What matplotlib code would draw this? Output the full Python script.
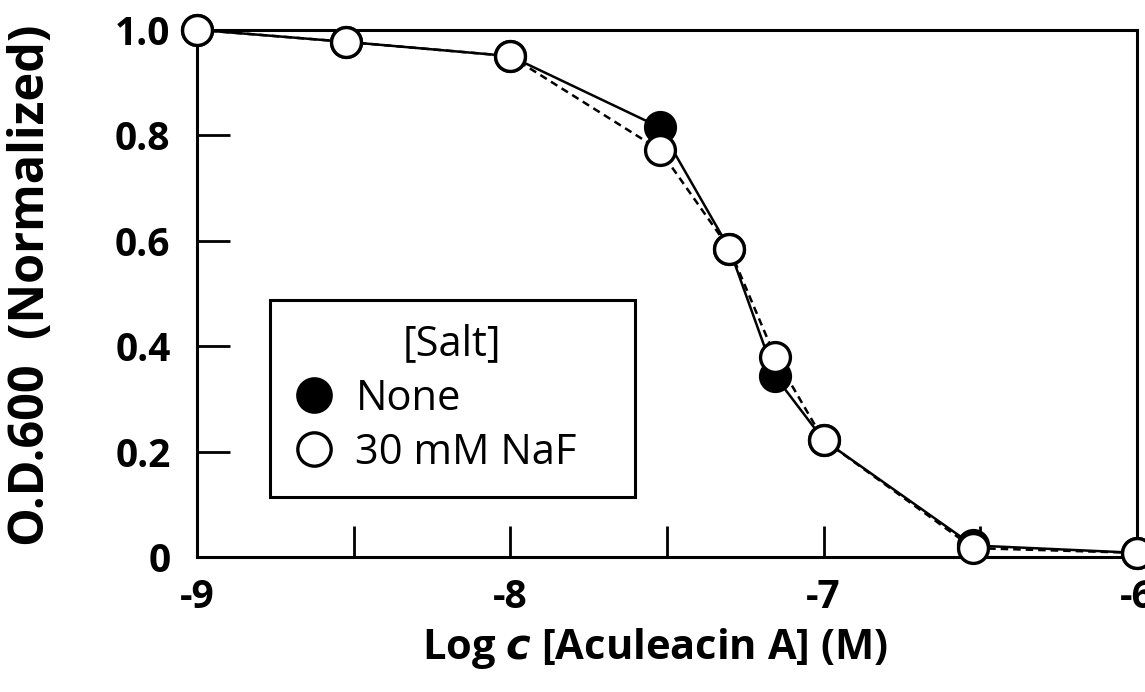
import numpy as np
import matplotlib.pyplot as plt
from matplotlib.lines import Line2D

# concentrations (M) and normalized O.D.600
conc = [1e-9, 3e-9, 1e-8, 3e-8, 5e-8, 7e-8, 1e-7, 3e-7, 1e-6]
od_none = [1.0, 0.977, 0.95, 0.815, 0.585, 0.343, 0.222, 0.022, 0.008]
od_naf = [1.0, 0.977, 0.95, 0.772, 0.585, 0.380, 0.222, 0.017, 0.008]

x_ticks = [-9, -8.5, -8, -7.5, -7, -6.5, -6]
x_labels = ['-9', '', '-8', '', '-7', '', '-6']
y_ticks = [0, 0.2, 0.4, 0.6, 0.8, 1.0]
y_labels = ['0', '0.2', '0.4', '0.6', '0.8', '1.0']

plt.rcParams['font.family'] = ['Open Sans', 'DejaVu Sans']

fig = plt.figure(figsize=(11.45, 6.92), dpi=100)
ax = fig.add_axes([0.172, 0.195, 0.821, 0.762])

logc = np.log10(conc)
ax.plot(logc, od_none, '-', color='black', lw=1.8, marker='o', ms=21.5,
        mfc='black', mec='black', mew=2.4, clip_on=False, zorder=3)
ax.plot(logc, od_naf, '--', color='black', lw=1.8, marker='o', ms=21.5,
        mfc='white', mec='black', mew=2.4, clip_on=False, zorder=4,
        dashes=(3, 2))

ax.set_xlim(-9, -6)
ax.set_ylim(0, 1)
ax.set_xticks(x_ticks)
ax.set_xticklabels(x_labels, fontsize=28, fontweight='bold')
ax.set_yticks(y_ticks)
ax.set_yticklabels(y_labels, fontsize=28, fontweight='bold')
ax.tick_params(axis='y', direction='in', length=24, width=2, pad=19)
ax.tick_params(axis='x', direction='in', length=22, width=2, pad=15)
for s in ax.spines.values():
    s.set_linewidth(2.2)

ax.set_xlabel(r'Log $\mathbfit{c}$ [Aculeacin A] (M)', fontsize=30,
              fontweight='bold')
ax.xaxis.set_label_coords(0.487, -0.13)
ax.set_ylabel('O.D.600  (Normalized)', fontsize=35, fontweight='bold')
ax.yaxis.set_label_coords(-0.15, 0.516)

handles = [Line2D([], [], ls='none', marker='o', ms=24, mfc='black',
                  mec='black', mew=2.4),
           Line2D([], [], ls='none', marker='o', ms=24, mfc='white',
                  mec='black', mew=2.4)]
leg = ax.legend(handles, ['None', '30 mM NaF'], title='[Salt]',
                loc='lower left', bbox_to_anchor=(0.0777, 0.114, 0.388, 0.377),
                mode='expand', fontsize=30, title_fontsize=30, frameon=True,
                fancybox=False, edgecolor='black', handletextpad=0.5,
                handlelength=1.0, borderpad=0.55, labelspacing=0.3,
                borderaxespad=0, framealpha=1)
leg.get_frame().set_linewidth(2.2)

fig.savefig('out.png', dpi=100)
